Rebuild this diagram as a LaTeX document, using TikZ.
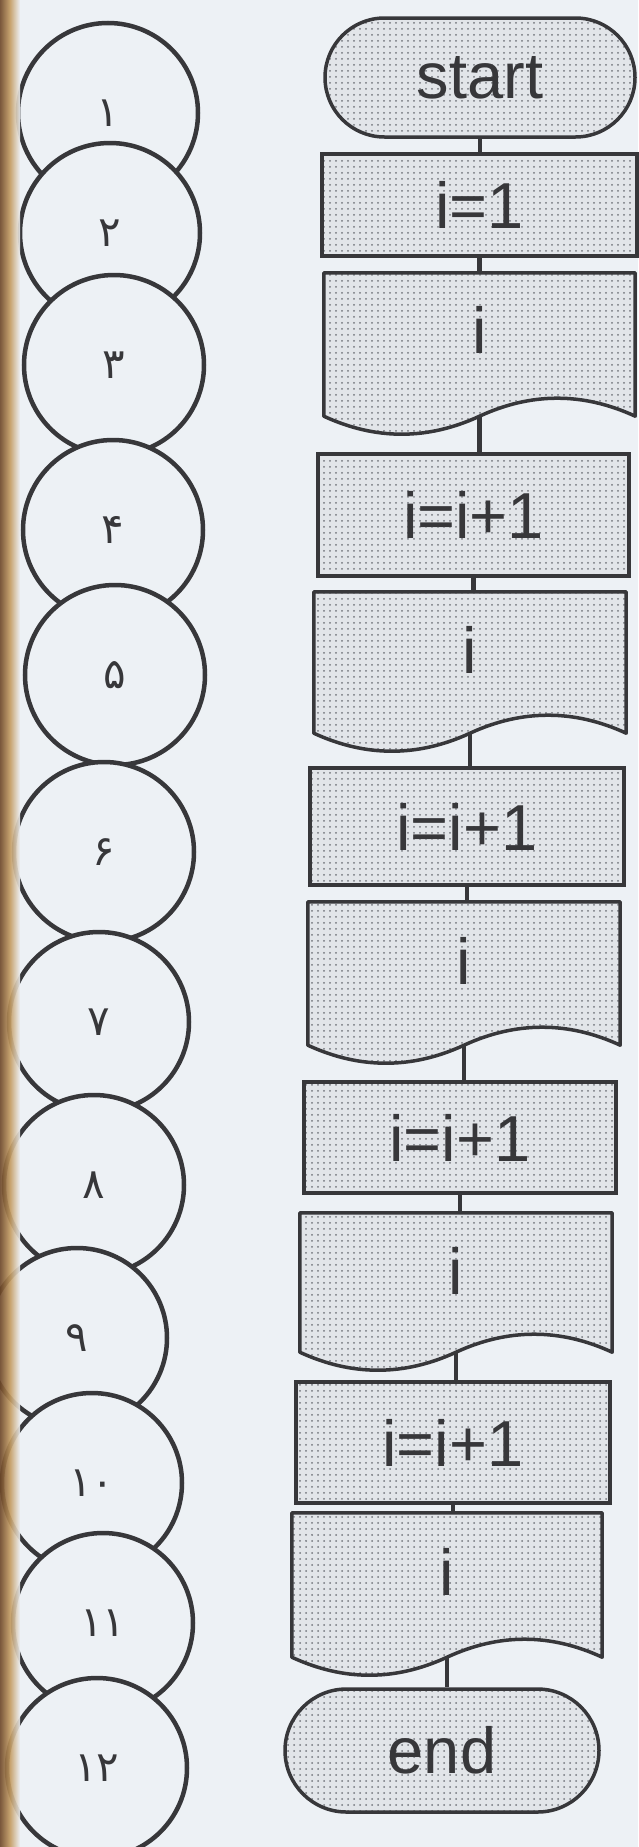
\documentclass[tikz,border=0pt]{standalone}
\usepackage{fontspec}
\setmainfont{Liberation Sans}
\newfontfamily\digfont{DejaVu Sans}
\usetikzlibrary{shapes.misc,patterns.meta}
\definecolor{bg}{RGB}{237,241,245}
\definecolor{boxfill}{RGB}{226,229,233}
\definecolor{dotc}{RGB}{115,118,124}
\definecolor{ink}{RGB}{55,55,58}
\definecolor{stripdark}{RGB}{110,72,40}
\definecolor{stripgold}{RGB}{196,156,98}
\begin{document}
\begin{tikzpicture}[x=1pt,y=-1pt,
  shaded/.style={preaction={fill=boxfill}, pattern={Dots[distance=6pt,radius=1pt]}, pattern color=dotc},
  txt/.style={font=\fontsize{65}{72}\selectfont, text=ink},
  term/.style={rounded rectangle, draw=ink, line width=3.5pt, shaded, inner sep=0pt, txt},
  proc/.style={rectangle, draw=ink, line width=3.5pt, shaded, inner sep=0pt, txt},
  docarea/.style={rectangle, draw=none, inner sep=0pt},
  doctext/.style={txt, inner sep=0pt},
  docline/.style={draw=ink, line width=3.5pt, shaded, line join=round},
  conn/.style={draw=ink, line width=4.5pt},
  circ/.style={circle, draw=ink, line width=4.5pt, fill=bg, minimum size=180pt, inner sep=0pt, font=\digfont\fontsize{42}{46}\selectfont, text=ink}
]
\useasboundingbox (0,0) rectangle (638,1847);
\fill[bg] (0,0) rectangle (638,1847);

% circles
\node[circ] (c1)  at (108,113)  {۱};
\node[circ] (c2)  at (110,233)  {۲};
\node[circ] (c3)  at (114,365)  {۳};
\node[circ] (c4)  at (113,530)  {۴};
\node[circ] (c5)  at (115,675)  {۵};
\node[circ] (c6)  at (104,852)  {۶};
\node[circ] (c7)  at (99,1022)  {۷};
\node[circ] (c8)  at (94,1185)  {۸};
\node[circ] (c9)  at (77,1338)  {۹};
\node[circ] (c10) at (92,1483)  {۱۰};
\node[circ] (c11) at (103,1623) {۱۱};
\node[circ] (c12) at (97,1768)  {۱۲};

% binding strip
\shade[left color=stripdark, right color=bg, middle color=stripgold, opacity=0.9] (0,0) rectangle (20,1847);

% flowchart nodes
\node[term, minimum width=310pt, minimum height=119pt] (start) at (480,77.5) {start};
\node[proc, minimum width=315pt, minimum height=102pt] (i1) at (479.5,205) {i=1};
\node[docarea, minimum width=311pt, minimum height=143pt] (d1) at (479.5,344.5) {};
\node[proc, minimum width=311pt, minimum height=122pt] (p1) at (473.5,515) {i=i+1};
\node[docarea, minimum width=312pt, minimum height=141pt] (d2) at (470,662.5) {};
\node[proc, minimum width=314pt, minimum height=117pt] (p2) at (467,826.5) {i=i+1};
\node[docarea, minimum width=312pt, minimum height=143pt] (d3) at (464,973.5) {};
\node[proc, minimum width=312pt, minimum height=111pt] (p3) at (460,1137.5) {i=i+1};
\node[docarea, minimum width=312pt, minimum height=139pt] (d4) at (456,1282.5) {};
\node[proc, minimum width=314pt, minimum height=121pt] (p4) at (453,1442.5) {i=i+1};
\node[docarea, minimum width=310pt, minimum height=144pt] (d5) at (447,1585) {};
\node[term, minimum width=314pt, minimum height=123pt] (end) at (442,1750.5) {end};

% document shapes
\foreach \d in {d1,d2,d3,d4,d5}{
  \path[docline] (\d.north west) -- (\d.north east) -- (\d.south east)
    .. controls +(-52,-24) and +(52,-24) .. (\d.south)
    .. controls +(-52,24) and +(52,24) .. (\d.south west) -- cycle;
}
\node[doctext] (t1) at ([yshift=15pt]d1.center) {i};
\node[doctext] (t2) at ([yshift=13pt]d2.center) {i};
\node[doctext] (t3) at ([yshift=13pt]d3.center) {i};
\node[doctext] (t4) at ([yshift=12pt]d4.center) {i};
\node[doctext] (t5) at ([yshift=13pt]d5.center) {i};

% connectors
\foreach \a/\b in {start/i1,i1/d1,d1/p1,p1/d2,d2/p2,p2/d3,d3/p3,p3/d4,d4/p4,p4/d5,d5/end}{
  \draw[conn] (\a.south) -- (\a.south |- \b.north);
}
\end{tikzpicture}
\end{document}
